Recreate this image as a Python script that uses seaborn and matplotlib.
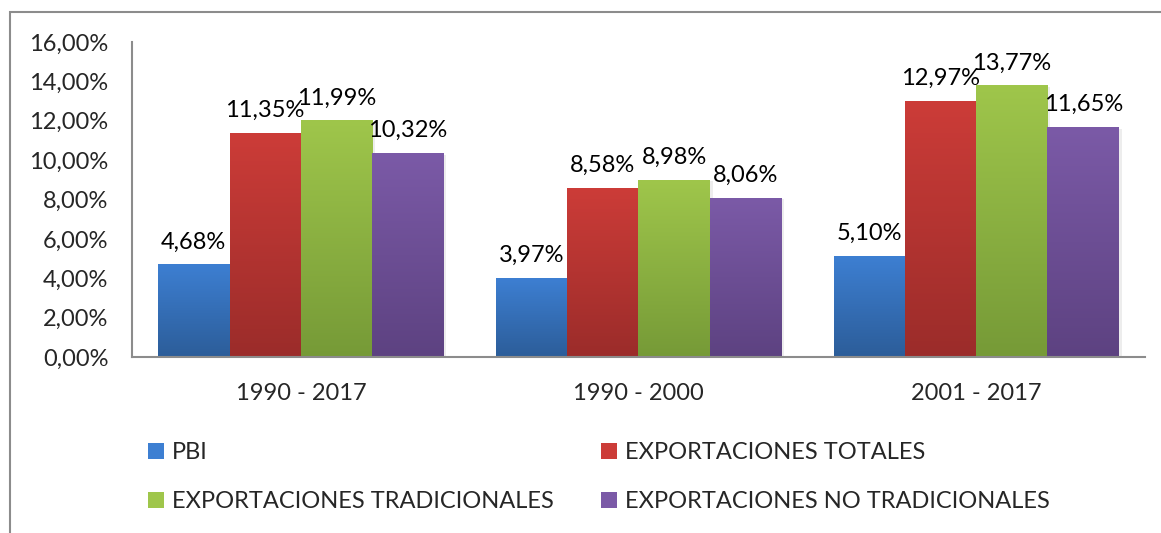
import numpy as np
import pandas as pd
import seaborn as sns
import matplotlib.pyplot as plt
from matplotlib.colors import to_rgb
from matplotlib.patches import Rectangle, Patch

periods = ['1990 - 2017', '1990 - 2000', '2001 - 2017']
series = ['PBI', 'EXPORTACIONES TOTALES', 'EXPORTACIONES TRADICIONALES', 'EXPORTACIONES NO TRADICIONALES']
pbi = [4.68, 3.97, 5.10]
exp_totales = [11.35, 8.58, 12.97]
exp_tradicionales = [11.99, 8.98, 13.77]
exp_no_tradicionales = [10.32, 8.06, 11.65]

# gradient colours (top, bottom) per series
top_colors = ['#3d7fd2', '#cc3c38', '#9fc64b', '#7b5aa7']
bottom_colors = ['#2c5d99', '#9b2c2a', '#769a37', '#5d4281']

df = pd.DataFrame({
    'periodo': periods * 4,
    'serie': [s for s in series for _ in periods],
    'valor': pbi + exp_totales + exp_tradicionales + exp_no_tradicionales,
})

sns.set_style('white')
plt.rcParams['font.family'] = ['Lato', 'DejaVu Sans']
FS = 17

fig = plt.figure(figsize=(11.61, 5.33), dpi=100)
ax = fig.add_axes([132 / 1161, 1 - 357 / 533, 1013 / 1161, 315 / 533])

sns.barplot(data=df, x='periodo', y='valor', hue='serie', hue_order=series,
            palette=top_colors, width=0.845, gap=0, ax=ax, legend=False,
            saturation=1)

ax.set_ylim(0, 16)
ax.set_xlim(-0.5, 2.5)

# gradient fill for each bar
for container, c_top, c_bot in zip(ax.containers, top_colors, bottom_colors):
    t = np.array(to_rgb(c_top))
    b = np.array(to_rgb(c_bot))
    grad = np.linspace(0, 1, 256)[:, None, None]
    img = t * (1 - grad) + b * grad
    for bar in container:
        x0, w, h = bar.get_x(), bar.get_width(), bar.get_height()
        # soft shadow
        ax.add_patch(Rectangle((x0 + 0.008, 0), w, h - 0.05, color='#000000',
                               alpha=0.07, lw=0, zorder=1.5))
        ax.imshow(img, extent=(x0, x0 + w, 0, h), aspect='auto', zorder=2,
                  interpolation='bilinear')
        bar.set_facecolor('none')
    ax.bar_label(container, labels=[f'{v:.2f}%'.replace('.', ',') for v in container.datavalues],
                 padding=9, fontsize=FS, color='#000000')

ax.set_ylim(0, 16)
ax.set_xlim(-0.5, 2.5)
ax.set_yticks(np.arange(0, 17, 2))
ax.set_yticklabels([f'{v:.2f}%'.replace('.', ',') for v in np.arange(0, 17, 2)], fontsize=FS)
ax.tick_params(axis='x', labelsize=FS, pad=19, length=0)
ax.tick_params(axis='y', pad=17, length=0)
ax.set_xlabel('')
ax.set_ylabel('')
for s in ['top', 'right']:
    ax.spines[s].set_visible(False)
for s in ['left', 'bottom']:
    ax.spines[s].set_color('#8c8c8c')
    ax.spines[s].set_linewidth(1.5)

# outer chart frame
fig.patches.append(Rectangle((10 / 1161, -0.1), 1.2, 1.1 - 12 / 533, transform=fig.transFigure,
                             fill=False, edgecolor='#8c8c8c', lw=1.5))

handles = [Patch(facecolor=c, edgecolor='none') for c in top_colors]
leg_kw = dict(loc='upper left', ncol=1, frameon=False, fontsize=FS, handlelength=0.68,
              handleheight=0.68, handletextpad=0.35, labelspacing=1.2,
              borderaxespad=0, borderpad=0)
leg1 = fig.legend([handles[0], handles[2]], [series[0], series[2]],
                  bbox_to_anchor=(148 / 1161, 1 - 442 / 533), **leg_kw)
leg2 = fig.legend([handles[1], handles[3]], [series[1], series[3]],
                  bbox_to_anchor=(601 / 1161, 1 - 442 / 533), **leg_kw)

fig.savefig('out.png', dpi=100)
